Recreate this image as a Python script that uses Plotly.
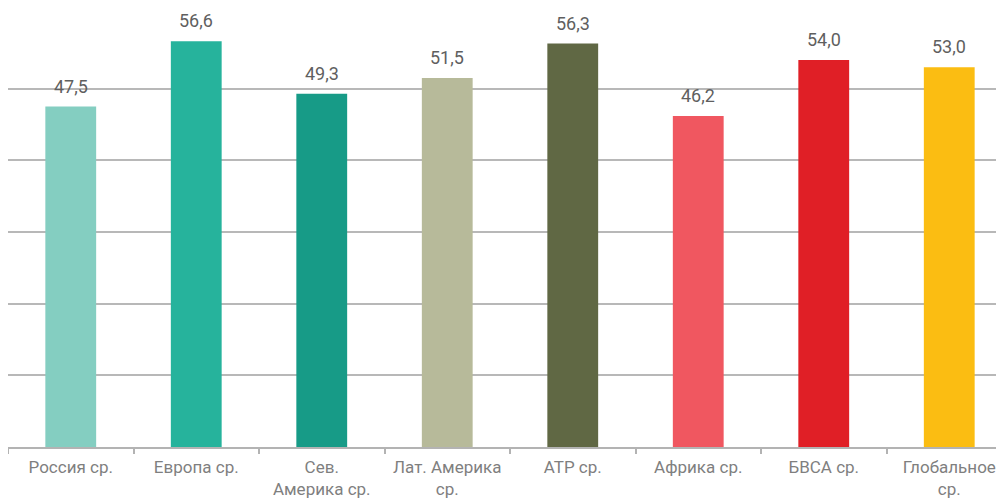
import plotly.graph_objects as go

categories = ["Россия ср.", "Европа ср.", "Сев.<br>Америка ср.", "Лат. Америка<br>ср.",
              "АТР ср.", "Африка ср.", "БВСА ср.", "Глобальное<br>ср."]
values = [47.5, 56.6, 49.3, 51.5, 56.3, 46.2, 54.0, 53.0]
colors = ["#84CEC1", "#26B39C", "#179B87", "#B7BA9A", "#606844", "#F05760", "#E01F26", "#FBBD12"]
y_ticks = [0, 10, 20, 30, 40, 50, 60]

fig = go.Figure()
fig.add_trace(go.Bar(
    x=categories, y=values, marker=dict(color=colors, line=dict(width=0)),
    hoverinfo="skip",
))

for c, v in zip(categories, values):
    fig.add_annotation(x=c, y=v, text=f"{v:.1f}".replace(".", ","), showarrow=False,
                       yanchor="bottom", yshift=8,
                       font=dict(family="Roboto", size=18, color="#5f5f5f"))

fig.update_layout(
    width=1004, height=498,
    margin=dict(l=0, r=0, t=9, b=59, autoexpand=False),
    paper_bgcolor="white", plot_bgcolor="white",
    bargap=0.595, showlegend=False,
    font=dict(family="Roboto", size=17, color="#7f7f7f"),
)
fig.update_xaxes(
    type="category", range=[-0.5, 7.5], automargin=False,
    showline=True, linecolor="#b3b3b3", linewidth=1.5,
    ticks="outside", tickson="boundaries", ticklen=5, tickcolor="#b3b3b3", tickwidth=1.5,
    showgrid=False, tickfont=dict(family="Roboto", size=17, color="#7f7f7f"),
    ticklabelstandoff=4,
)
fig.update_yaxes(
    range=[0, 60], tickvals=y_ticks, showticklabels=False,
    showgrid=True, gridcolor="#b8b8b8", gridwidth=1.5, zeroline=False,
)

fig.write_html("out.html")
